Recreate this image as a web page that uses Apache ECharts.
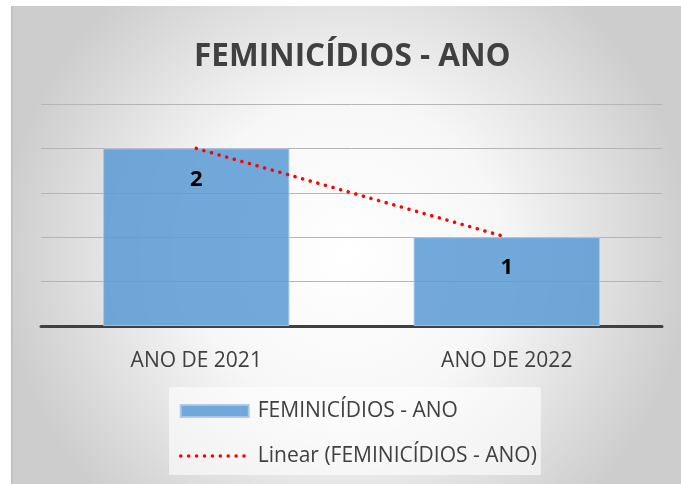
<!DOCTYPE html>
<html>
<head>
<meta charset="utf-8">
<script src="https://cdn.jsdelivr.net/npm/echarts@6/dist/echarts.min.js"></script>
<style>
  html, body { margin: 0; padding: 0; background: #fff; }
  #chart { width: 681px; height: 484px; }
</style>
</head>
<body>
<div id="chart"></div>
<script>
var categories = ['ANO DE 2021', 'ANO DE 2022'];
var values = [2, 1];
var seriesName = 'FEMINICÍDIOS - ANO';
var trendName = 'Linear (FEMINICÍDIOS - ANO)';

// linha de tendência (regressão linear sobre os valores)
function linearFit(ys) {
    var n = ys.length, sx = 0, sy = 0, sxy = 0, sxx = 0;
    for (var i = 0; i < n; i++) {
        sx += i; sy += ys[i]; sxy += i * ys[i]; sxx += i * i;
    }
    var b = (n * sxy - sx * sy) / (n * sxx - sx * sx);
    var a = (sy - b * sx) / n;
    var out = [];
    for (var j = 0; j < n; j++) out.push(a + b * j);
    return out;
}
var trend = linearFit(values);

var font = '"Open Sans", sans-serif';
var dotted = { color: '#ff0000', width: 3.5, type: [0.1, 7.8], cap: 'round' };
var chart = echarts.init(document.getElementById('chart'));
var option = {
    animation: false,
    graphic: [
        {
            type: 'rect', z: -10, silent: true,
            shape: { x: 11, y: 6, width: 670, height: 478 },
            style: {
                fill: {
                    type: 'radial', x: 0.5, y: 0.52, r: 0.72,
                    colorStops: [
                        { offset: 0, color: '#ffffff' },
                        { offset: 0.45, color: '#f7f7f7' },
                        { offset: 1, color: '#cdcdcd' }
                    ]
                }
            }
        },
        {
            type: 'rect', z: -9, silent: true,
            shape: { x: 11, y: 6, width: 1.5, height: 478 },
            style: { fill: '#bdbdbd' }
        }
    ],
    title: {
        text: seriesName,
        left: 194,
        top: 41,
        padding: 0,
        textStyle: { fontFamily: font, fontSize: 31.5, fontWeight: 'bold', color: '#404040' }
    },
    grid: { left: 41, right: 19, top: 104, bottom: 158 },
    legend: {
        orient: 'vertical',
        left: 169,
        top: 387,
        padding: [13, 4, 8, 10],
        backgroundColor: 'rgba(255,255,255,0.6)',
        itemWidth: 68,
        itemHeight: 12,
        itemGap: 23,
        textStyle: { fontFamily: font, fontSize: 21, lineHeight: 22, color: '#404040', padding: [0, 0, 0, 4] },
        data: [
            { name: seriesName, icon: 'rect' },
            { name: trendName, itemStyle: { opacity: 0 }, lineStyle: dotted }
        ]
    },
    xAxis: {
        type: 'category',
        data: categories,
        axisLine: { lineStyle: { color: '#404040', width: 3 } },
        axisTick: { show: false },
        axisLabel: { fontFamily: font, fontSize: 21, color: '#404040', margin: 25 }
    },
    yAxis: {
        type: 'value',
        min: 0, max: 2.5, interval: 0.5,
        axisLabel: { show: false },
        axisLine: { show: false },
        axisTick: { show: false },
        splitLine: { lineStyle: { color: '#b5b5b5', width: 1 } }
    },
    series: [
        {
            name: seriesName,
            type: 'bar',
            data: values,
            barCategoryGap: '40%',
            itemStyle: { color: 'rgba(91,155,213,0.86)', borderColor: 'rgba(170,200,232,0.9)', borderWidth: 1 },
            label: {
                show: true, position: 'insideTop', distance: 20,
                fontFamily: font, fontSize: 22, fontWeight: 'bold', color: '#000'
            }
        },
        {
            name: trendName,
            type: 'line',
            data: trend,
            symbol: 'none',
            z: 5,
            lineStyle: dotted,
            itemStyle: { color: '#ff0000' }
        }
    ]
};
chart.setOption(option);
</script>
</body>
</html>
